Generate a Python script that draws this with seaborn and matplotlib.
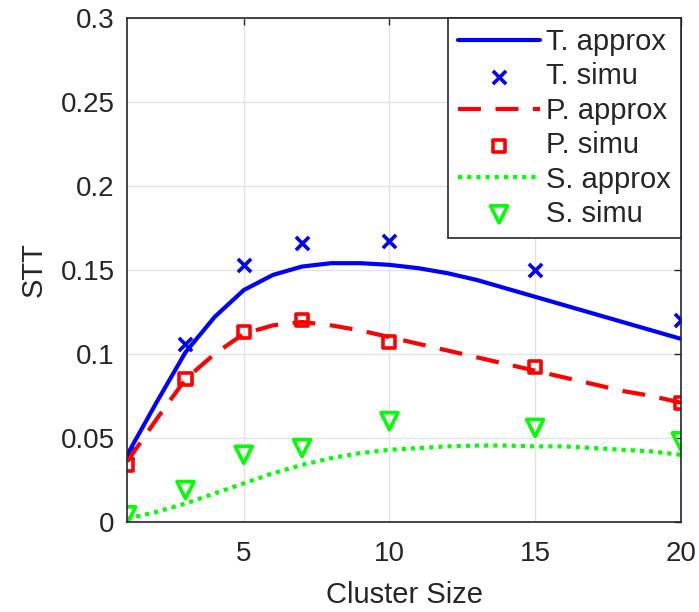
import matplotlib
matplotlib.use("Agg")
import matplotlib.pyplot as plt
import seaborn as sns
import pandas as pd

# Cluster sizes for the analytical curves and the simulation points
x_approx = list(range(1, 21))
x_simu = [1, 3, 5, 7, 10, 15, 20]

t_approx = [0.040, 0.071, 0.101, 0.122, 0.138, 0.147, 0.152, 0.154, 0.154, 0.153,
            0.151, 0.148, 0.144, 0.139, 0.134, 0.129, 0.124, 0.119, 0.114, 0.109]
p_approx = [0.036, 0.061, 0.085, 0.100, 0.112, 0.117, 0.119, 0.117, 0.114, 0.110,
            0.106, 0.102, 0.098, 0.094, 0.090, 0.086, 0.082, 0.078, 0.075, 0.071]
s_approx = [0.002, 0.006, 0.011, 0.017, 0.023, 0.029, 0.034, 0.038, 0.041, 0.043,
            0.044, 0.045, 0.0455, 0.0455, 0.045, 0.045, 0.044, 0.043, 0.042, 0.040]

t_simu = [0.041, 0.106, 0.153, 0.166, 0.167, 0.150, 0.120]
p_simu = [0.034, 0.085, 0.113, 0.120, 0.107, 0.092, 0.071]
s_simu = [0.004, 0.019, 0.040, 0.044, 0.060, 0.056, 0.048]

sns.set_theme(style="whitegrid")
plt.rcParams["font.family"] = ["Liberation Sans", "DejaVu Sans"]

fig = plt.figure(figsize=(6.99, 6.12), dpi=100)
ax = fig.add_axes([0.182, 0.147, 0.792, 0.824])

approx_df = pd.DataFrame({"x": x_approx, "T": t_approx, "P": p_approx, "S": s_approx})
simu_df = pd.DataFrame({"x": x_simu, "T": t_simu, "P": p_simu, "S": s_simu})

sns.lineplot(data=approx_df, x="x", y="T", ax=ax, color="#0000ff", lw=3,
             label="T. approx")
sns.scatterplot(data=simu_df, x="x", y="T", ax=ax, marker="x", color="#0000ff",
                s=90, linewidth=2.6, label="T. simu")
sns.lineplot(data=approx_df, x="x", y="P", ax=ax, color="#ff0000", lw=3,
             label="P. approx")
ax.lines[-1].set_dashes((5.5, 3.5))
sns.scatterplot(data=simu_df, x="x", y="P", ax=ax, marker="s", facecolor="none",
                edgecolor="#ff0000", s=75, linewidth=2.6, label="P. simu")
sns.lineplot(data=approx_df, x="x", y="S", ax=ax, color="#00ff00", lw=3,
             label="S. approx")
ax.lines[-1].set_dashes((1, 1.2))
sns.scatterplot(data=simu_df, x="x", y="S", ax=ax, marker="v", facecolor="none",
                edgecolor="#00ff00", s=150, linewidth=2.6, label="S. simu")

ax.set_xlim(1, 20)
ax.set_ylim(0, 0.3)
ax.set_xticks([5, 10, 15, 20])
ax.set_yticks([0, 0.05, 0.1, 0.15, 0.2, 0.25, 0.3])
ax.set_yticklabels(["0", "0.05", "0.1", "0.15", "0.2", "0.25", "0.3"])
ax.set_xlabel("Cluster Size", fontsize=21, color="#262626", labelpad=10)
ax.set_ylabel("STT", fontsize=21, color="#262626", labelpad=9)
ax.tick_params(axis="both", labelsize=20, colors="#262626", direction="in",
               length=5, width=1, top=True, right=True)
ax.tick_params(axis="x", pad=14)
ax.tick_params(axis="y", pad=9)
ax.grid(True, color="#e3e3e3", lw=1)
for sp in ax.spines.values():
    sp.set_color("#262626")
    sp.set_linewidth(1.2)
ax.set_facecolor("white")

leg = ax.legend(loc="upper right", fontsize=21, frameon=True, fancybox=False,
                borderaxespad=0, handlelength=2.8, handletextpad=0.2,
                labelspacing=0.22, borderpad=0.35)
leg.get_frame().set_edgecolor("#262626")
leg.get_frame().set_linewidth(1.2)
leg.get_frame().set_alpha(1)

fig.savefig("out.png", dpi=100, facecolor="white")
